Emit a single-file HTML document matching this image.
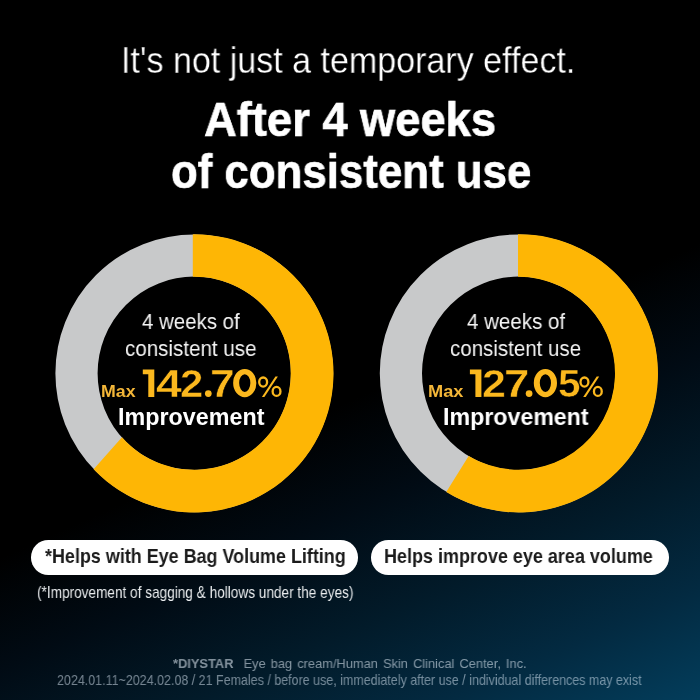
<!DOCTYPE html><html><head><meta charset="utf-8"><title>After 4 weeks</title><style>
html,body{margin:0;padding:0;}
body{width:700px;height:700px;overflow:hidden;position:relative;background:#000;font-family:"Liberation Sans", sans-serif;}
#bg{position:absolute;left:0;top:0;width:700px;height:700px;
 background:linear-gradient(155.8deg, #000 0%, #000 55%, #010b14 66%, #021b2a 78%, #032a41 89%, #033d5b 100%);}
.t{position:absolute;white-space:nowrap;line-height:1;transform-origin:0 0;will-change:transform;}
.pill{position:absolute;background:#fff;border-radius:17.3px;}
svg{position:absolute;left:0;top:0;}
</style></head><body>
<div id="bg"></div>
<svg width="700" height="700" viewBox="0 0 700 700">
<circle cx="194.3" cy="373.3" r="97.7" fill="#000"/>
<circle cx="194.3" cy="373.3" r="117.8" fill="none" stroke="#c8c9ca" stroke-width="42.2"/>
<path d="M192.80 234.26 A139.1 139.1 0 1 1 93.60 469.19 L121.99 437.28 A96.5 96.5 0 1 0 192.80 276.76 Z" fill="#feb605"/>
<circle cx="518.7" cy="373.3" r="97.7" fill="#000"/>
<circle cx="518.7" cy="373.3" r="117.8" fill="none" stroke="#c8c9ca" stroke-width="42.2"/>
<path d="M518.00 234.25 A139.1 139.1 0 1 1 446.25 491.99 L468.68 455.89 A96.5 96.5 0 1 0 518.00 276.75 Z" fill="#feb605"/>
</svg>
<div class="pill" style="left:31.3px;top:540.1px;width:327.2px;height:34.5px;"></div>
<div class="pill" style="left:370.7px;top:540.1px;width:298.3px;height:34.5px;"></div>
<div class="t" id="t1" style="left:120.71px;top:43.00px;font-size:36.0px;font-weight:400;color:#ffffff;transform:scaleX(0.9455);-webkit-text-stroke:0.3px #000;">It's not just a temporary effect.</div>
<div class="t" id="t2" style="left:204.32px;top:95.00px;font-size:48.8px;font-weight:700;color:#ffffff;transform:scaleX(0.9283);-webkit-text-stroke:0.7px #fff;">After 4 weeks</div>
<div class="t" id="t3" style="left:170.68px;top:147.00px;font-size:48.8px;font-weight:700;color:#ffffff;transform:scaleX(0.8977);-webkit-text-stroke:0.7px #fff;">of consistent use</div>
<div class="t" id="l1" style="left:142.46px;top:311.00px;font-size:22.4px;font-weight:400;color:#f4f4f4;transform:scaleX(0.9135);">4 weeks of</div>
<div class="t" id="l2" style="left:125.33px;top:338.00px;font-size:22.4px;font-weight:400;color:#f4f4f4;transform:scaleX(0.9186);">consistent use</div>
<div class="t" id="l3" style="left:100.66px;top:383.00px;font-size:17.0px;font-weight:700;color:#f3b638;transform:scaleX(1.0430);">Max</div>
<div class="t" id="l40" style="left:155.63px;top:364.00px;font-size:39.0px;font-weight:700;color:#fbb81e;transform:scaleX(1.1956);-webkit-text-stroke:0.5px #000;">4</div>
<div class="t" id="l41" style="left:180.08px;top:364.00px;font-size:39.0px;font-weight:700;color:#fbb81e;transform:scaleX(1.0753);-webkit-text-stroke:0.5px #000;">2</div>
<div class="t" id="l42" style="left:209.97px;top:364.00px;font-size:39.0px;font-weight:700;color:#fbb81e;transform:scaleX(1.1419);-webkit-text-stroke:0.5px #000;">7</div>
<div class="t" id="l6" style="left:118.37px;top:406.00px;font-size:23.3px;font-weight:700;color:#ffffff;transform:scaleX(1.0009);">Improvement</div>
<div class="t" id="r1" style="left:466.96px;top:311.00px;font-size:22.4px;font-weight:400;color:#f4f4f4;transform:scaleX(0.9172);">4 weeks of</div>
<div class="t" id="r2" style="left:450.24px;top:338.00px;font-size:22.4px;font-weight:400;color:#f4f4f4;transform:scaleX(0.9158);">consistent use</div>
<div class="t" id="r3" style="left:427.63px;top:383.00px;font-size:17.0px;font-weight:700;color:#f3b638;transform:scaleX(1.0716);">Max</div>
<div class="t" id="r40" style="left:482.24px;top:364.00px;font-size:39.0px;font-weight:700;color:#fbb81e;transform:scaleX(1.1022);-webkit-text-stroke:0.5px #000;">2</div>
<div class="t" id="r41" style="left:503.92px;top:364.00px;font-size:39.0px;font-weight:700;color:#fbb81e;transform:scaleX(1.1697);-webkit-text-stroke:0.5px #000;">7</div>
<div class="t" id="r42" style="left:557.52px;top:364.00px;font-size:39.0px;font-weight:700;color:#fbb81e;transform:scaleX(1.0410);-webkit-text-stroke:0.5px #000;">5</div>
<div class="t" id="r6" style="left:443.07px;top:406.00px;font-size:23.3px;font-weight:700;color:#ffffff;transform:scaleX(0.9954);">Improvement</div>
<div class="t" id="p1" style="left:45.42px;top:547.00px;font-size:19.9px;font-weight:700;color:#1b1b1b;transform:scaleX(0.9020);">*Helps with Eye Bag Volume Lifting</div>
<div class="t" id="p2" style="left:384.41px;top:547.00px;font-size:19.9px;font-weight:700;color:#1b1b1b;transform:scaleX(0.9039);">Helps improve eye area volume</div>
<div class="t" id="s1" style="left:36.55px;top:585.00px;font-size:15.9px;font-weight:400;color:#e9ecee;transform:scaleX(0.8570);">(*Improvement of sagging &amp; hollows under the eyes)</div>
<div class="t" id="f1" style="left:173.24px;top:657.00px;font-size:13.3px;font-weight:400;color:rgba(236,246,255,0.55);transform:scaleX(0.9669);word-spacing:1.5px;"><b>*DIYSTAR</b>&nbsp; Eye bag cream/Human Skin Clinical Center, Inc.</div>
<div class="t" id="f2" style="left:56.71px;top:673.00px;font-size:14.5px;font-weight:400;color:rgba(232,244,255,0.5);transform:scaleX(0.8606);">2024.01.11~2024.02.08 / 21 Females / before use, immediately after use / individual differences may exist</div>
<svg width="700" height="700" viewBox="0 0 700 700"><polygon points="142.8,369.5 154.3,369.5 154.3,396.9 148.3,396.9 148.3,374.3 142.8,374.3" fill="#fbb81e"/><polygon points="469.9,369.5 481.4,369.5 481.4,396.9 475.4,396.9 475.4,374.3 469.9,374.3" fill="#fbb81e"/><circle cx="208.3" cy="393.6" r="3.35" fill="#fbb81e"/><circle cx="529.1" cy="393.6" r="3.35" fill="#fbb81e"/><g fill="none" stroke="#fbb81e" stroke-width="2.3"><ellipse cx="263.15" cy="382.1" rx="3.95" ry="4.6"/><ellipse cx="276.55" cy="391.4" rx="3.9" ry="4.55"/></g><polygon fill="#fbb81e" points="275.40,376.4 277.90,376.4 264.40,397.1 261.90,397.1"/><g fill="none" stroke="#fbb81e" stroke-width="2.3"><ellipse cx="584.45" cy="382.1" rx="3.95" ry="4.6"/><ellipse cx="597.85" cy="391.4" rx="3.9" ry="4.55"/></g><polygon fill="#fbb81e" points="596.70,376.4 599.20,376.4 585.70,397.1 583.20,397.1"/><path fill="#fbb81e" fill-rule="evenodd" d="M233.15 383.05 a11.6 14.15 0 1 0 23.2 0 a11.6 14.15 0 1 0 -23.2 0 Z M239.15 383.05 a5.6 8.85 0 1 0 11.2 0 a5.6 8.85 0 1 0 -11.2 0 Z"/><path fill="#fbb81e" fill-rule="evenodd" d="M533.80 383.05 a11.6 14.15 0 1 0 23.2 0 a11.6 14.15 0 1 0 -23.2 0 Z M539.80 383.05 a5.6 8.85 0 1 0 11.2 0 a5.6 8.85 0 1 0 -11.2 0 Z"/></svg>
</body></html>
